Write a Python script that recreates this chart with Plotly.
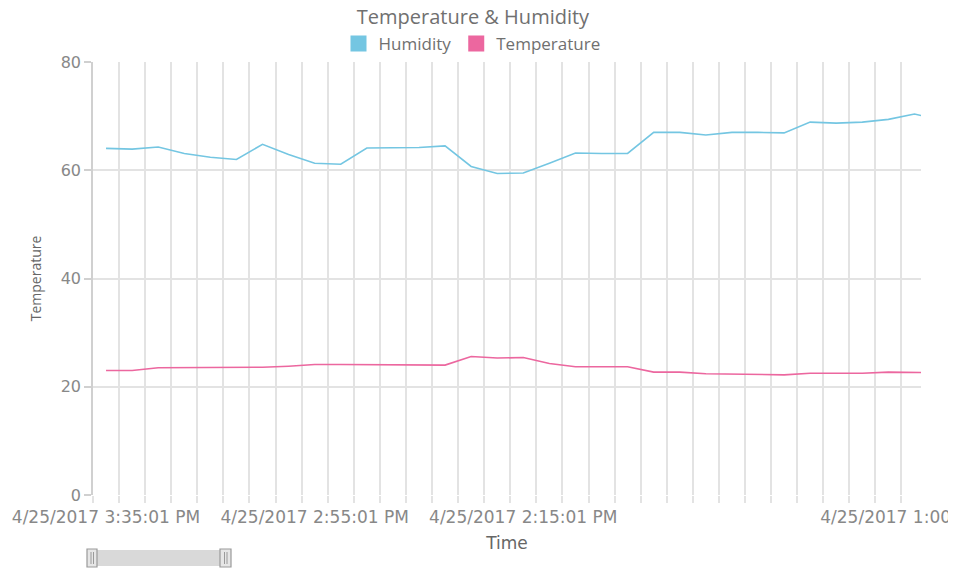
import plotly.graph_objects as go

# ---- data ----
times = [
    "4/25/2017 3:35:01 PM", "4/25/2017 3:30:01 PM", "4/25/2017 3:25:01 PM", "4/25/2017 3:20:01 PM",
    "4/25/2017 3:15:01 PM", "4/25/2017 3:10:01 PM", "4/25/2017 3:05:01 PM", "4/25/2017 3:00:01 PM",
    "4/25/2017 2:55:01 PM", "4/25/2017 2:50:01 PM", "4/25/2017 2:45:01 PM", "4/25/2017 2:40:01 PM",
    "4/25/2017 2:35:01 PM", "4/25/2017 2:30:01 PM", "4/25/2017 2:25:01 PM", "4/25/2017 2:20:01 PM",
    "4/25/2017 2:15:01 PM", "4/25/2017 2:10:01 PM", "4/25/2017 2:05:01 PM", "4/25/2017 2:00:01 PM",
    "4/25/2017 1:55:01 PM", "4/25/2017 1:50:01 PM", "4/25/2017 1:45:01 PM", "4/25/2017 1:40:01 PM",
    "4/25/2017 1:35:01 PM", "4/25/2017 1:30:01 PM", "4/25/2017 1:25:01 PM", "4/25/2017 1:20:01 PM",
    "4/25/2017 1:15:01 PM", "4/25/2017 1:10:01 PM", "4/25/2017 1:05:01 PM", "4/25/2017 1:00:01 PM",
    "4/25/2017 12:55:01 PM",
]
humidity = [64.05, 63.9, 64.3, 63.1, 62.4, 62.0, 64.8, 62.9, 61.3, 61.1, 64.1, 64.1,
            64.2, 64.5, 60.7, 59.4, 59.5, 61.3, 63.2, 63.1, 63.1, 67.0, 67.0, 66.5,
            67.0, 67.0, 66.9, 68.9, 68.7, 68.9, 69.4, 70.4, 69.3]
temperature = [23.0, 23.0, 23.5, 23.5, 23.5, 23.5, 23.6, 23.8, 24.1, 24.1, 24.1, 24.1,
               24.0, 24.0, 25.6, 25.3, 25.4, 24.3, 23.7, 23.7, 23.7, 22.7, 22.7, 22.4,
               22.3, 22.2, 22.2, 22.5, 22.5, 22.5, 22.7, 22.6, 22.6]
label_idx = [0, 8, 16, 31]
y_ticks = [0, 20, 40, 60, 80]

HUM_C = "#74c6e2"
TEMP_C = "#ec679f"
TXT = "#888888"
GRID = "#e3e3e3"

idx = list(range(len(times)))

fig = go.Figure()
fig.add_trace(go.Scatter(x=idx, y=humidity, mode="lines", name="Humidity",
                         line=dict(color=HUM_C, width=1.6), showlegend=False,
                         text=times, hovertemplate="%{text}<br>%{y}<extra>Humidity</extra>"))
fig.add_trace(go.Scatter(x=idx, y=temperature, mode="lines", name="Temperature",
                         line=dict(color=TEMP_C, width=1.6), showlegend=False,
                         text=times, hovertemplate="%{text}<br>%{y}<extra>Temperature</extra>"))
# legend swatches
fig.add_trace(go.Scatter(x=[None], y=[None], mode="markers", name="Humidity",
                         marker=dict(symbol="square", size=20, color=HUM_C)))
fig.add_trace(go.Scatter(x=[None], y=[None], mode="markers", name="Temperature",
                         marker=dict(symbol="square", size=20, color=TEMP_C)))

# page body has an 8px margin: the figure is offset by (8, 8)
OFF = 8
W, H = 967 - OFF, 569 - OFF
ml, mt = 93 - OFF, 62 - OFF
pw, ph = 828, 433
mr, mb = W - ml - pw, H - mt - ph

def px(xp):  # screen px -> paper x
    return (xp - OFF - ml) / pw

def py(yp):  # screen px -> paper y
    return (H - mb - (yp - OFF)) / ph

shapes = [
    # clip the tick labels at the edges like the reference
    dict(type="rect", xref="paper", yref="paper", x0=px(948), x1=px(1000), y0=py(532), y1=py(503),
         fillcolor="white", line=dict(width=0), layer="above"),
    dict(type="rect", xref="paper", yref="paper", x0=px(-20), x1=px(12), y0=py(532), y1=py(503),
         fillcolor="white", line=dict(width=0), layer="above"),
    # scrollbar
    dict(type="rect", xref="paper", yref="paper", x0=px(92), x1=px(226), y0=py(566), y1=py(550),
         fillcolor="#d9d9d9", line=dict(width=0)),
    dict(type="rect", xref="paper", yref="paper", x0=px(87), x1=px(97), y0=py(567), y1=py(549),
         fillcolor="#e6e6e6", line=dict(color="#9a9a9a", width=1.2)),
    dict(type="rect", xref="paper", yref="paper", x0=px(220), x1=px(231), y0=py(567), y1=py(549),
         fillcolor="#e6e6e6", line=dict(color="#9a9a9a", width=1.2)),
    dict(type="line", xref="paper", yref="paper", x0=px(91), x1=px(91), y0=py(564), y1=py(552),
         line=dict(color="#9a9a9a", width=1)),
    dict(type="line", xref="paper", yref="paper", x0=px(93.5), x1=px(93.5), y0=py(564), y1=py(552),
         line=dict(color="#9a9a9a", width=1)),
    dict(type="line", xref="paper", yref="paper", x0=px(224.5), x1=px(224.5), y0=py(564), y1=py(552),
         line=dict(color="#9a9a9a", width=1)),
    dict(type="line", xref="paper", yref="paper", x0=px(227), x1=px(227), y0=py(564), y1=py(552),
         line=dict(color="#9a9a9a", width=1)),
]

fig.update_layout(
    width=W, height=H,
    margin=dict(l=ml, r=mr, t=mt, b=mb, autoexpand=False),
    paper_bgcolor="white", plot_bgcolor="white",
    title=dict(text="Temperature & Humidity", x=px(473), xref="paper", xanchor="center",
               y=1 - (17 - OFF) / H, yanchor="middle",
               font=dict(family="Open Sans", size=20, color="#707070")),
    legend=dict(orientation="h", x=px(472), xanchor="center", xref="paper", y=1.0,
                yref="paper", yanchor="bottom", font=dict(family="Open Sans", size=17, color="#707070"),
                tracegroupgap=0),
    xaxis=dict(
        range=[-0.5, 31.25], showgrid=False, zeroline=False,
        tickmode="array", tickvals=label_idx, ticktext=[times[i] for i in label_idx],
        ticks="outside", ticklen=7, tickcolor="rgba(0,0,0,0)",
        tickfont=dict(family="DejaVu Sans", size=17, color=TXT),
        ticklabeloverflow="allow",
        showline=False,
        minor=dict(tickmode="linear", tick0=-0.5, dtick=1, ticks="outside", ticklen=7,
                   tickcolor=GRID, tickwidth=2, showgrid=True, gridcolor=GRID, gridwidth=1.5),
        title=dict(text="Time", font=dict(family="DejaVu Sans", size=17, color="#666666"), standoff=10),
    ),
    yaxis=dict(
        range=[0, 80], tickvals=y_ticks, showgrid=True, gridcolor=GRID, gridwidth=1.5,
        zeroline=False, showline=True, linecolor="#d0d0d0", linewidth=1.5,
        ticks="outside", ticklen=7, tickcolor="#d0d0d0", tickwidth=1.5,
        tickfont=dict(family="DejaVu Sans", size=16, color=TXT),
        title=dict(text="Temperature", font=dict(family="Open Sans", size=14, color="#666666"), standoff=16),
    ),
    shapes=shapes,
    showlegend=True,
)

fig.write_html("out.html")
